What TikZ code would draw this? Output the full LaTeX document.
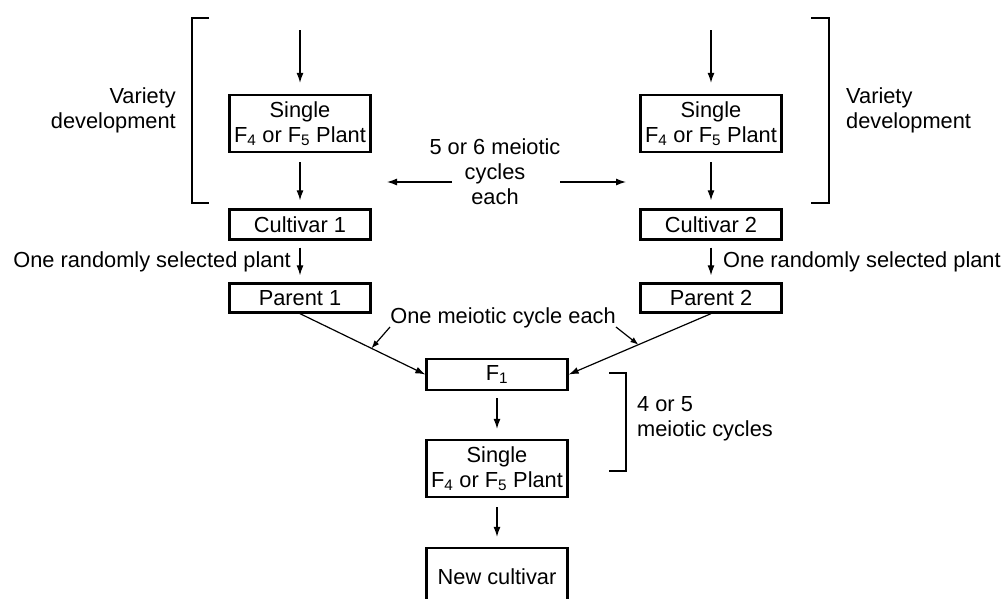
\documentclass[tikz,border=0pt]{standalone}
\usepackage{fontspec}
\setmainfont{Liberation Sans}
\usetikzlibrary{arrows.meta,calc}
\newcommand{\fsz}{\fontsize{21.8}{25}\selectfont}
\newcommand{\Fsub}[1]{F\textsubscript{#1}}
\begin{document}
\begin{tikzpicture}[x=1pt,y=-1pt,
  box/.style={draw,line width=2.3pt,inner sep=0pt,align=center,font=\fsz,minimum width=141pt},
  lbl/.style={inner sep=0pt,font=\fsz},
  arr/.style={line width=1.2pt,-{Latex[length=10pt,width=7pt]}},
  brk/.style={line width=2.4pt}]
\useasboundingbox (0,0) rectangle (1002,598);
\clip (0,0) rectangle (1002,598);

% left column
\node[box,minimum height=57pt] (s1) at (300,123.5) {Single\\\Fsub{4} or \Fsub{5} Plant};
\node[box,minimum height=30pt] (c1) at (300,224.5) {Cultivar 1};
\node[box,minimum height=29pt] (p1) at (300,298) {Parent 1};
% right column
\node[box,minimum height=57pt] (s2) at (711,123.5) {Single\\\Fsub{4} or \Fsub{5} Plant};
\node[box,minimum height=30pt] (c2) at (711,224.5) {Cultivar 2};
\node[box,minimum height=29pt] (p2) at (711,298) {Parent 2};
% bottom column
\node[box,minimum height=31pt] (f1) at (497,374.5) {\Fsub{1}};
\node[box,minimum height=57pt] (s3) at (497,468.5) {Single\\\Fsub{4} or \Fsub{5} Plant};
\node[box,minimum height=60pt,text depth=0pt] (nc) at (497,578) {\raisebox{3pt}{New cultivar}};

% top inputs
\coordinate (t1) at (300,30);
\coordinate (t2) at (711,30);
\draw[arr,shorten >=11pt] (t1) -- (s1.north);
\draw[arr,shorten >=11pt] (t2) -- (s2.north);
\draw[arr,shorten <=9pt,shorten >=8pt] (s1.south) -- (c1.north);
\draw[arr,shorten <=9pt,shorten >=8pt] (s2.south) -- (c2.north);
\draw[arr,shorten <=7pt,shorten >=7pt] (c1.south) -- (p1.north);
\draw[arr,shorten <=7pt,shorten >=7pt] (c2.south) -- (p2.north);
\draw[arr,shorten <=7pt,shorten >=10pt] (f1.south) -- (s3.north);
\draw[arr,shorten <=9pt,shorten >=10pt] (s3.south) -- (nc.north);

% crosses to F1
\draw[arr] (p1.south) -- (f1.west);
\draw[arr] (p2.south) -- (f1.east);

% labels
\node[lbl,anchor=east,align=right] (vd1) at (176,110) {Variety\\development};
\node[lbl,anchor=west,align=left] (vd2) at (846,110) {Variety\\development};
\node[lbl,anchor=east] (rs1) at (291,262) {One randomly selected plant};
\node[lbl,anchor=west] (rs2) at (723,262) {One randomly selected plant};
\node[lbl,align=center] (mc) at (495,172) {5 or 6 meiotic\\cycles\\each};
\node[lbl] (oc) at (503,318) {One meiotic cycle each};
\node[lbl,anchor=west,align=left] (fm) at (637,419) {4 or 5\\meiotic cycles};

% meiotic arrows
\coordinate (ml1) at (452,182);
\coordinate (ml2) at (387,182);
\coordinate (mr1) at (560,182);
\coordinate (mr2) at (626,182);
\draw[arr] (ml1) -- (ml2);
\draw[arr] (mr1) -- (mr2);

% small arrows from "One meiotic cycle each"
\coordinate (ocl) at (390,327);
\coordinate (ocr) at (616,327);
\draw[arr,-{Latex[length=8pt,width=6pt]}] (ocl) -- ($(p1.south)!0.57!(f1.west)$);
\draw[arr,-{Latex[length=8pt,width=6pt]}] (ocr) -- ($(p2.south)!0.51!(f1.east)$);

% brackets
\draw[brk] (209,18) -- (192,18) -- (192,203) -- (209,203);
\draw[brk] (811,18) -- (829,18) -- (829,203) -- (811,203);
\draw[brk] (609,373) -- (626,373) -- (626,471) -- (609,471);
\end{tikzpicture}
\end{document}
